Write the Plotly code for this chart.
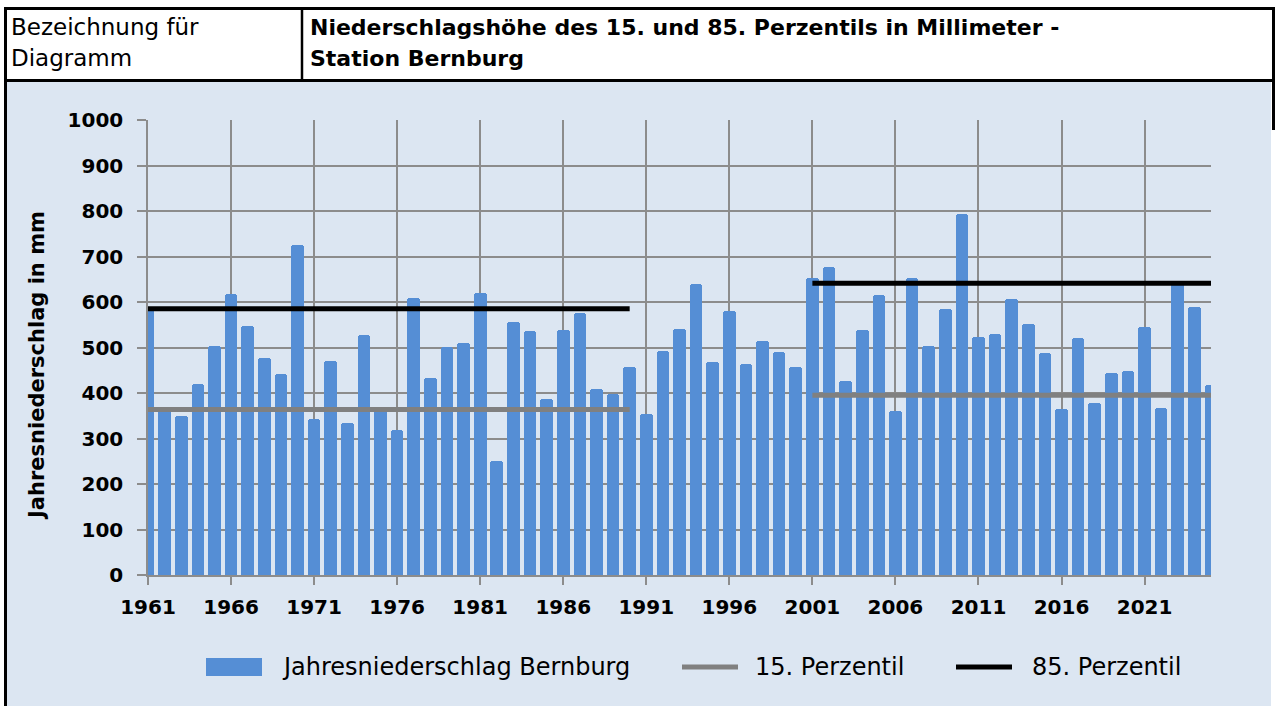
import plotly.graph_objects as go

# ---------------- data ----------------
years = list(range(1961, 2026))
niederschlag = [590, 365, 350, 420, 503, 618, 547, 478, 441, 725,
                343, 471, 335, 527, 368, 319, 609, 434, 502, 511,
                620, 251, 555, 536, 386, 538, 575, 408, 398, 457,
                353, 493, 540, 640, 469, 580, 464, 514, 491, 457,
                653, 676, 426, 538, 615, 360, 652, 503, 584, 793,
                522, 529, 607, 551, 488, 365, 521, 377, 444, 448,
                545, 368, 642, 588, 418]
perioden_start = [1961, 2001]
perioden_ende = [1990, 2025]
perzentil_15 = [364, 395]
perzentil_85 = [585, 641]
x_ticks = list(range(1961, 2022, 5))
y_ticks = list(range(0, 1001, 100))

header_left = ["Bezeichnung für", "Diagramm"]
header_title = ["Niederschlagshöhe des 15. und 85. Perzentils in Millimeter -",
                "Station Bernburg"]
legend_names = ["Jahresniederschlag Bernburg", "15. Perzentil", "85. Perzentil"]
y_title = "Jahresniederschlag in mm"

# ---------------- layout geometry (pixels) ----------------
W, H = 1276, 706
L, R, T, B = 148, 1211, 120, 575
PW, PH = R - L, B - T

BLUE = "#558ED5"
BG = "#DCE6F2"
GRID = "#8C8C8C"
FONT = "DejaVu Sans"


def px(x):
    return (x - L) / PW


def py(y):
    return (B - y) / PH


fig = go.Figure()

fig.add_trace(go.Bar(
    x=years, y=niederschlag, width=0.76,
    marker=dict(color=BLUE, line=dict(width=0), cornerradius=3),
    name=legend_names[0], showlegend=False,
))

for s, e, v in zip(perioden_start, perioden_ende, perzentil_15):
    fig.add_trace(go.Scatter(x=[s, e], y=[v, v], mode="lines",
                             line=dict(color="#808080", width=5),
                             name=legend_names[1], showlegend=False))
for s, e, v in zip(perioden_start, perioden_ende, perzentil_85):
    fig.add_trace(go.Scatter(x=[s, e], y=[v, v], mode="lines",
                             line=dict(color="#000000", width=5),
                             name=legend_names[2], showlegend=False))

shapes = []
annotations = []

# blue chart background
shapes.append(dict(type="rect", xref="paper", yref="paper", layer="below",
                   x0=px(5), x1=px(1271), y0=py(706), y1=py(81),
                   fillcolor=BG, line=dict(width=0)))
# header box
shapes.append(dict(type="rect", xref="paper", yref="paper",
                   x0=px(5.5), x1=px(1273.5), y0=py(80.5), y1=py(8.5),
                   fillcolor="white", line=dict(color="black", width=3)))
# header divider
shapes.append(dict(type="line", xref="paper", yref="paper",
                   x0=px(302), x1=px(302), y0=py(80.5), y1=py(8.5),
                   line=dict(color="black", width=2.5)))
# left outer border
shapes.append(dict(type="line", xref="paper", yref="paper",
                   x0=px(5.5), x1=px(5.5), y0=py(8), y1=py(706),
                   line=dict(color="black", width=3)))
# right outer border (upper part)
shapes.append(dict(type="line", xref="paper", yref="paper",
                   x0=px(1273.5), x1=px(1273.5), y0=py(8), y1=py(130),
                   line=dict(color="black", width=3)))

# header texts
for i, t in enumerate(header_left):
    annotations.append(dict(text=t, xref="paper", yref="paper",
                            x=px(9), y=py(27 + 31 * i), xanchor="left", yanchor="middle",
                            showarrow=False, font=dict(family=FONT, size=23, color="black")))
for i, t in enumerate(header_title):
    annotations.append(dict(text="<b>" + t + "</b>", xref="paper", yref="paper",
                            x=px(308), y=py(27 + 31 * i), xanchor="left", yanchor="middle",
                            showarrow=False, font=dict(family=FONT, size=22, color="black")))

# y-axis title
annotations.append(dict(text="<b>" + y_title + "</b>", xref="paper", yref="paper",
                        x=px(37), y=py(365), xanchor="center", yanchor="middle",
                        textangle=-90, showarrow=False,
                        font=dict(family=FONT, size=21, color="black")))

# custom legend
LY = 667
shapes.append(dict(type="rect", xref="paper", yref="paper",
                   x0=px(206), x1=px(262), y0=py(676), y1=py(658),
                   fillcolor=BLUE, line=dict(width=0)))
shapes.append(dict(type="line", xref="paper", yref="paper",
                   x0=px(682), x1=px(738), y0=py(LY), y1=py(LY),
                   line=dict(color="#808080", width=5)))
shapes.append(dict(type="line", xref="paper", yref="paper",
                   x0=px(956), x1=px(1012), y0=py(LY), y1=py(LY),
                   line=dict(color="black", width=5)))
for xpos, t in zip([280, 753, 1030], legend_names):
    annotations.append(dict(text=t, xref="paper", yref="paper",
                            x=px(xpos), y=py(LY), xanchor="left", yanchor="middle",
                            showarrow=False, font=dict(family=FONT, size=24, color="black")))

fig.update_layout(
    width=W, height=H,
    margin=dict(l=L, r=W - R, t=T, b=H - B, pad=0),
    paper_bgcolor="white", plot_bgcolor="white",
    showlegend=False, bargap=0,
    shapes=shapes, annotations=annotations,
    font=dict(family=FONT, color="black"),
)
fig.update_xaxes(
    range=[1961, 2025], tickmode="array", tickvals=x_ticks,
    ticktext=["<b>%d</b>" % v for v in x_ticks],
    showgrid=True, gridcolor=GRID, gridwidth=1.5,
    showline=True, linecolor=GRID, linewidth=1.5,
    ticks="outside", ticklen=8, tickcolor=GRID, tickwidth=1.5,
    tickfont=dict(family=FONT, size=20, color="black"),
    ticklabelstandoff=5,
    zeroline=False, fixedrange=True,
)
fig.update_yaxes(
    range=[0, 1000], tickmode="array", tickvals=y_ticks,
    ticktext=["<b>%d</b>" % v for v in y_ticks],
    showgrid=True, gridcolor=GRID, gridwidth=1.5,
    showline=True, linecolor=GRID, linewidth=1.5,
    ticks="outside", ticklen=9, tickcolor=GRID, tickwidth=1.5,
    tickfont=dict(family=FONT, size=20, color="black"),
    ticklabelstandoff=10,
    zeroline=False, fixedrange=True,
)

fig.write_html("out.html", config={"displayModeBar": False},
               post_script="document.body.style.margin='0';document.body.style.overflow='hidden';")
